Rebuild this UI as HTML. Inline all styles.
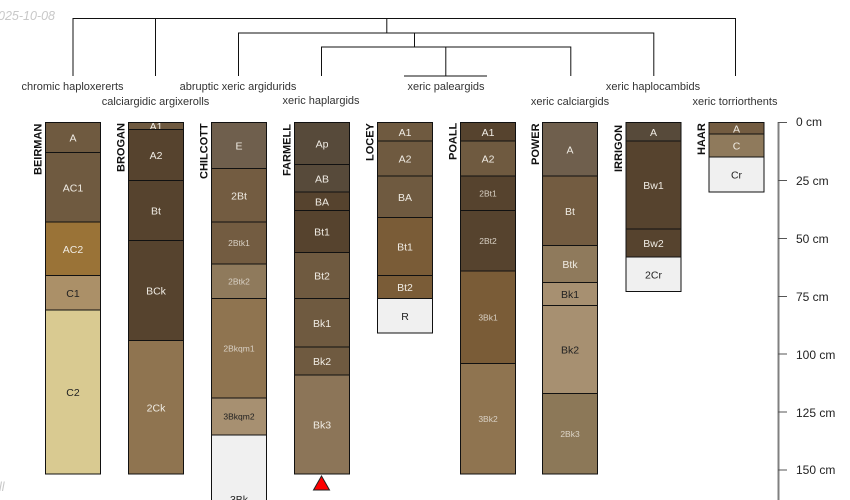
<!DOCTYPE html>
<html><head><meta charset="utf-8"><style>
html,body{margin:0;padding:0;background:#fff;width:850px;height:500px;overflow:hidden}
svg{display:block;overflow:hidden;font-family:"Liberation Sans",sans-serif}
</style></head><body>
<svg id="s" width="850" height="500" viewBox="0 0 850 500" xmlns="http://www.w3.org/2000/svg">
<rect width="850" height="500" fill="#fff"/>
<g font-size="12.5" font-style="italic" fill="#c8c8c8">
<text x="-2" y="20">025-10-08</text><text x="-1" y="491">ll</text></g>
<g fill="none" stroke="#111" stroke-width="1">
<path d="M73 76V18.5H735.5V76M155.5 18.5V76M386.8 18.5V33M238.5 76V33H653.8V76M414.5 33V47M321.5 76V47H570.8V76M445.8 47V76M404 76H487"/>
<path d="M414 33H534" />
</g>
<g font-size="11" fill="#333" text-anchor="middle">
<text x="72.5" y="90">chromic haploxererts</text>
<text x="155.5" y="105">calciargidic argixerolls</text>
<text x="238" y="90">abruptic xeric argidurids</text>
<text x="321" y="104">xeric haplargids</text>
<text x="446" y="90">xeric paleargids</text>
<text x="570" y="105">xeric calciargids</text>
<text x="653" y="90">xeric haplocambids</text>
<text x="735" y="105">xeric torriorthents</text>
</g>
<g font-size="11" font-weight="bold" fill="#111">
<text transform="translate(41.5,175) rotate(-90)">BEIRMAN</text>
<text transform="translate(124.5,172) rotate(-90)">BROGAN</text>
<text transform="translate(207.5,179) rotate(-90)">CHILCOTT</text>
<text transform="translate(290.5,176) rotate(-90)">FARMELL</text>
<text transform="translate(373.5,161) rotate(-90)">LOCEY</text>
<text transform="translate(456.5,160) rotate(-90)">POALL</text>
<text transform="translate(539,165) rotate(-90)">POWER</text>
<text transform="translate(622,172) rotate(-90)">IRRIGON</text>
<text transform="translate(705,155) rotate(-90)">HAAR</text>
</g>
<g id="p"></g>
<g stroke="#808080" fill="none">
<path d="M778.5 122V500" stroke-width="2"/>
<path d="M778 122.5H787M778 180.5H787M778 238.5H787M778 296.5H787M778 354H787M778 412H787M778 470H787" stroke="#555"/>
</g>
<g font-size="12" fill="#222">
<text x="796" y="126">0 cm</text><text x="796" y="185">25 cm</text><text x="796" y="243">50 cm</text><text x="796" y="301">75 cm</text><text x="796" y="359">100 cm</text><text x="796" y="417">125 cm</text><text x="796" y="474">150 cm</text>
</g>
<polygon points="321.5,476 313.5,490 329.5,490" fill="#f00" stroke="#222" stroke-width="1"/>
</svg>
<script>
var P=[
[45.5,[122.5,"A","#6f5a40",152.5,"AC1","#6f5a40",222,"AC2","#9a7337",275.5,"C1","#ab9068",310,"C2","#d9ca91"],474],
[128.5,[122.5,"A1","#6f5a40",129.5,"A2","#56432e",180.5,"Bt","#56432e",240.5,"BCk","#56432e",340.5,"2Ck","#8f7450"],474],
[211.5,[122.5,"E","#6f5f4d",168.5,"2Bt","#735c41",222,"2Btk1","#735c41",264,"2Btk2","#8f7a5c",298.5,"2Bkqm1","#8f7450",398,"3Bkqm2","#a79071",435,"3Bk","#f0f0f0"],510],
[294.5,[122.5,"Ap","#574a3a",164.5,"AB","#574a3a",192,"BA","#56432e",210.5,"Bt1","#56432e",252.5,"Bt2","#6f5a40",298.5,"Bk1","#6f5a40",347,"Bk2","#6f5a40",375,"Bk3","#8c7558"],474],
[377.5,[122.5,"A1","#6f5a40",141,"A2","#6f5a40",176,"BA","#6f5a40",217.5,"Bt1","#7a5c37",275.5,"Bt2","#7a5c37",298.5,"R","#f0f0f0"],333],
[460.5,[122.5,"A1","#56432e",141,"A2","#6f5a40",176,"2Bt1","#56432e",210.5,"2Bt2","#56432e",271,"3Bk1","#7a5c37",363.5,"3Bk2","#8f7450"],474],
[542.5,[122.5,"A","#6f5f4d",176,"Bt","#735c41",245.5,"Btk","#8f7a5c",282.5,"Bk1","#a79071",305.5,"Bk2","#a79071",393.5,"2Bk3","#8c7858"],474],
[626,[122.5,"A","#574a3a",141,"Bw1","#56432e",229,"Bw2","#56432e",257,"2Cr","#f0f0f0"],291.5],
[709,[122.5,"A","#735c41",134,"C","#8f7a5c",157,"Cr","#f0f0f0"],192]];
var h="";
P.forEach(function(p){var x=p[0],a=p[1],b=p[2];
for(var i=0;i<a.length;i+=3){var y=a[i],e=i+3<a.length?a[i+3]:b,c=a[i+2],t=a[i+1];
h+='<rect x="'+x+'" y="'+y+'" width="55" height="'+(e-y)+'" fill="'+c+'" stroke="#111" stroke-width="1"/>';
var dark=(c=="#f0f0f0"||c=="#d9ca91"||c=="#ab9068"||c=="#a79071");
var sm=t.length>3||/^2Bt?\d|^3Bk\d|^2Bk/.test(t);
var col=dark?"#222":"#f0ece4"; if(sm&&!dark)col="#d8d0c4";
var cy=(y+e)/2;
if(t=="3Bk")cy=499;
if(t=="2Bk3")col="#ddd5c8";
h+='<text x="'+(x+27.5)+'" y="'+(cy+(sm?3:4))+'" text-anchor="middle" font-size="'+(sm?8.5:10.5)+'" fill="'+col+'">'+t+'</text>';}
});
document.getElementById("p").innerHTML=h;
</script>
</body></html>
